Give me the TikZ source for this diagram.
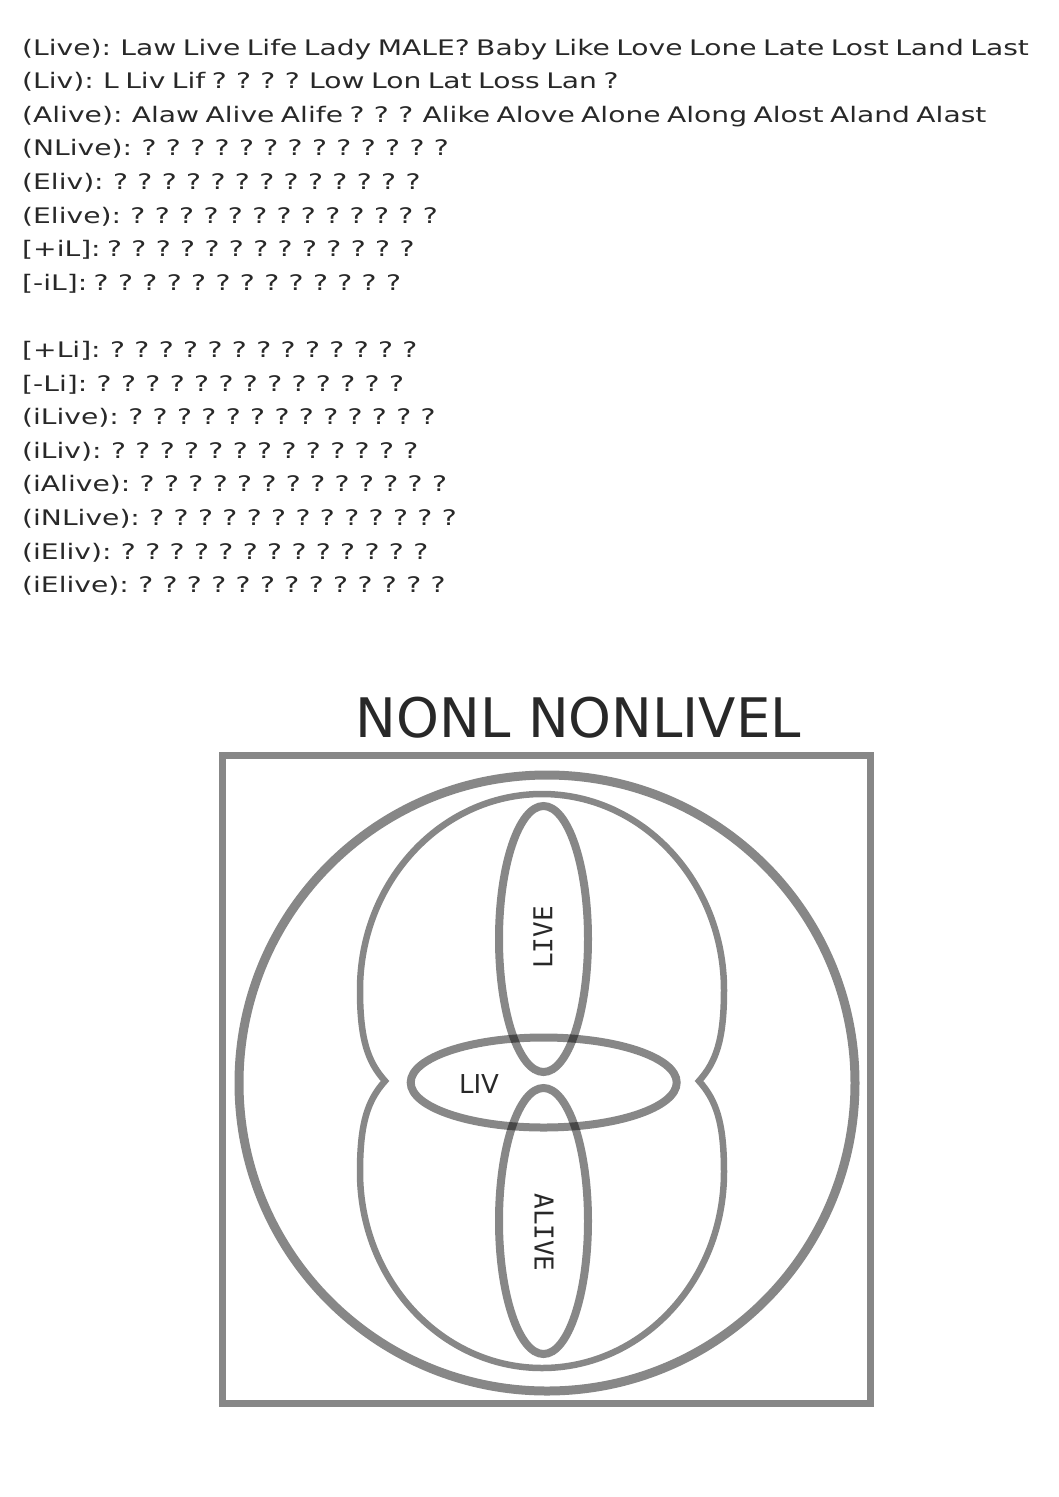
\documentclass[tikz,border=0pt]{standalone}
\usepackage{fontspec}
\setmainfont{DejaVu Sans}
\newfontfamily\bodyfont[FakeStretch=1.315,WordSpace=0.72]{DejaVu Sans}
\newfontfamily\labmono{DejaVu Sans Mono}
\definecolor{txt}{RGB}{40,40,40}
\begin{document}
\begin{tikzpicture}[x=1pt,y=-1pt,
  body/.style={anchor=base west,inner sep=0pt,text=txt,font=\bodyfont\fontsize{21.4}{25}\selectfont},
  shp/.style={draw=black,draw opacity=0.47},
  lab/.style={inner sep=0pt,text=txt},
]
\useasboundingbox (0,0) rectangle (1058,1497);
% text lines
\node[body] (l1) at (22,55) {(Live): Law Live Life Lady MALE? Baby Like Love Lone Late Lost Land Last};
\node[body] (l2) at (22,88.6) {(Liv): L Liv Lif ? ? ? ? Low Lon Lat Loss Lan ?};
\node[body] (l3) at (22,122.2) {(Alive): Alaw Alive Alife ? ? ? Alike Alove Alone Along Alost Aland Alast};
\node[body] (l4) at (22,155.8) {(NLive): ? ? ? ? ? ? ? ? ? ? ? ? ?};
\node[body] (l5) at (22,189.4) {(Eliv): ? ? ? ? ? ? ? ? ? ? ? ? ?};
\node[body] (l6) at (22,223.0) {(Elive): ? ? ? ? ? ? ? ? ? ? ? ? ?};
\node[body] (l7) at (22,256.6) {[+iL]: ? ? ? ? ? ? ? ? ? ? ? ? ?};
\node[body] (l8) at (22,290.2) {[-iL]: ? ? ? ? ? ? ? ? ? ? ? ? ?};
\node[body] (l9) at (22,357.4) {[+Li]: ? ? ? ? ? ? ? ? ? ? ? ? ?};
\node[body] (l10) at (22,391.0) {[-Li]: ? ? ? ? ? ? ? ? ? ? ? ? ?};
\node[body] (l11) at (22,424.6) {(iLive): ? ? ? ? ? ? ? ? ? ? ? ? ?};
\node[body] (l12) at (22,458.2) {(iLiv): ? ? ? ? ? ? ? ? ? ? ? ? ?};
\node[body] (l13) at (22,491.8) {(iAlive): ? ? ? ? ? ? ? ? ? ? ? ? ?};
\node[body] (l14) at (22,525.4) {(iNLive): ? ? ? ? ? ? ? ? ? ? ? ? ?};
\node[body] (l15) at (22,559.0) {(iEliv): ? ? ? ? ? ? ? ? ? ? ? ? ?};
\node[body] (l16) at (22,592.6) {(iElive): ? ? ? ? ? ? ? ? ? ? ? ? ?};
% title
\node[lab,anchor=base,font=\fontsize{54.5}{60}\selectfont] (title) at (578.5,737) {NONL NONLIVEL};
% diagram
\draw[shp,line width=7] (222,755.5) rectangle (870,1403.5);
\draw[shp,line width=9] (547,1083) circle[radius=308];
\draw[shp,line width=6.5] (542,794) .. controls (441.5,794) and (360,881.8) .. (360,990)
  .. controls (360,1040) and (368,1062) .. (385,1081)
  .. controls (368,1100) and (360,1122) .. (360,1172)
  .. controls (360,1280.2) and (441.5,1368) .. (542,1368)
  .. controls (642.5,1368) and (724,1280.2) .. (724,1172)
  .. controls (724,1122) and (716,1100) .. (699,1081)
  .. controls (716,1062) and (724,1040) .. (724,990)
  .. controls (724,881.8) and (642.5,794) .. cycle;
\draw[shp,line width=8] (543.5,939) ellipse[x radius=44.5,y radius=133];
\draw[shp,line width=8] (543.5,1221) ellipse[x radius=44.5,y radius=133];
\draw[shp,line width=8] (543.7,1082.5) ellipse[x radius=133,y radius=45];
\node[lab,font=\labmono\fontsize{26}{30}\selectfont,rotate=90] (lblive) at (543,937.5) {LIVE};
\node[lab,font=\labmono\fontsize{26}{30}\selectfont,rotate=-90] (lbalive) at (544,1232.5) {ALIVE};
\node[lab,font=\fontsize{26}{30}\selectfont] (lbliv) at (479,1084.5) {LIV};
\end{tikzpicture}
\end{document}
